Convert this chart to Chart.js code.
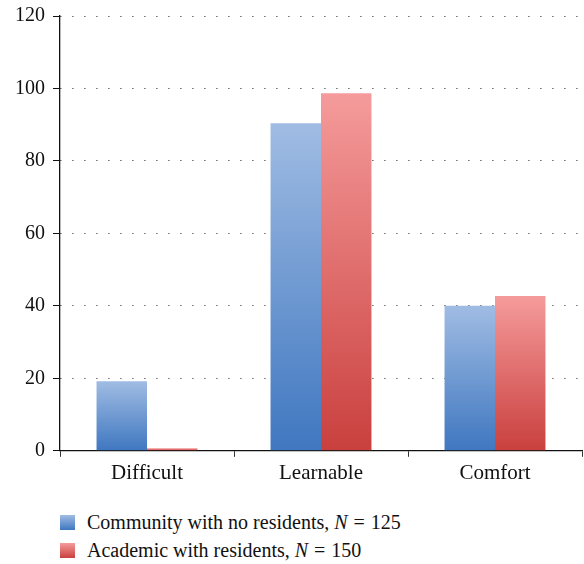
<!DOCTYPE html>
<html>
<head>
<meta charset="utf-8">
<script src="https://cdn.jsdelivr.net/npm/chart.js@4"></script>
<style>
  body { margin: 0; background: #fff; overflow: hidden; }
  #wrap { position: relative; width: 584px; height: 564px; }
  #box { position: absolute; left: 0; top: -4px; width: 584px; height: 494px; }
  #legend { position: absolute; left: 60px; top: 508px; font-family: "Liberation Serif", serif; font-size: 20px; color: #111; }
  .row { display: flex; align-items: center; height: 28px; }
  .sw { width: 15px; height: 15px; margin-right: 12px; }
  .eq { padding: 0 6px; }
</style>
</head>
<body>
<div id="wrap">
  <div id="box"><canvas id="chart"></canvas></div>
  <div id="legend">
    <div class="row"><span class="sw" style="background: linear-gradient(#a0bce3, #3f77c0)"></span><span>Community with no residents, <i>N</i><span class="eq">=</span>125</span></div>
    <div class="row"><span class="sw" style="background: linear-gradient(#f59b9b, #c9403e)"></span><span>Academic with residents, <i>N</i><span class="eq">=</span>150</span></div>
  </div>
</div>
<script>
// data (percent of respondents)
const categories = ["Difficult", "Learnable", "Comfort"];
const communityValues = [19.2, 90.4, 40.0];
const academicValues = [0.7, 98.7, 42.7];
const yMax = 120;
const yStep = 20;

// each bar gets its own top-to-bottom gradient
function barGradient(top, bottom) {
  return (c) => {
    const chart = c.chart;
    if (!chart.chartArea || c.raw === undefined) return bottom;
    const y = chart.scales.y;
    const g = chart.ctx.createLinearGradient(0, y.getPixelForValue(c.raw), 0, y.getPixelForValue(0));
    g.addColorStop(0, top);
    g.addColorStop(1, bottom);
    return g;
  };
}

const font = { family: "Liberation Serif", size: 20 };

new Chart(document.getElementById("chart"), {
  type: "bar",
  data: {
    labels: categories,
    datasets: [
      {
        label: "Community with no residents, N = 125",
        data: communityValues,
        backgroundColor: barGradient("#a0bce3", "#3f77c0")
      },
      {
        label: "Academic with residents, N = 150",
        data: academicValues,
        backgroundColor: barGradient("#f59b9b", "#c9403e")
      }
    ]
  },
  options: {
    responsive: true,
    maintainAspectRatio: false,
    animation: false,
    categoryPercentage: 0.58,
    barPercentage: 1,
    layout: { padding: { top: 0, right: 2, left: 7, bottom: 0 } },
    plugins: { legend: { display: false }, tooltip: { enabled: false } },
    scales: {
      x: {
        border: { display: true, color: "#111", width: 1.3 },
        grid: { offset: true, drawOnChartArea: false, drawTicks: true, tickLength: 6, tickColor: "#333" },
        ticks: { font: { family: "Liberation Serif", size: 21 }, color: "#111", padding: 4 }
      },
      y: {
        min: 0,
        max: yMax,
        border: { display: true, color: "#111", width: 1.3, dash: [1.2, 10.8] },
        grid: { color: "#444", lineWidth: 1, tickLength: 7, tickColor: "#111", tickBorderDash: [] },
        ticks: { stepSize: yStep, font, color: "#111", padding: 8 }
      }
    }
  }
});
</script>
</body>
</html>
